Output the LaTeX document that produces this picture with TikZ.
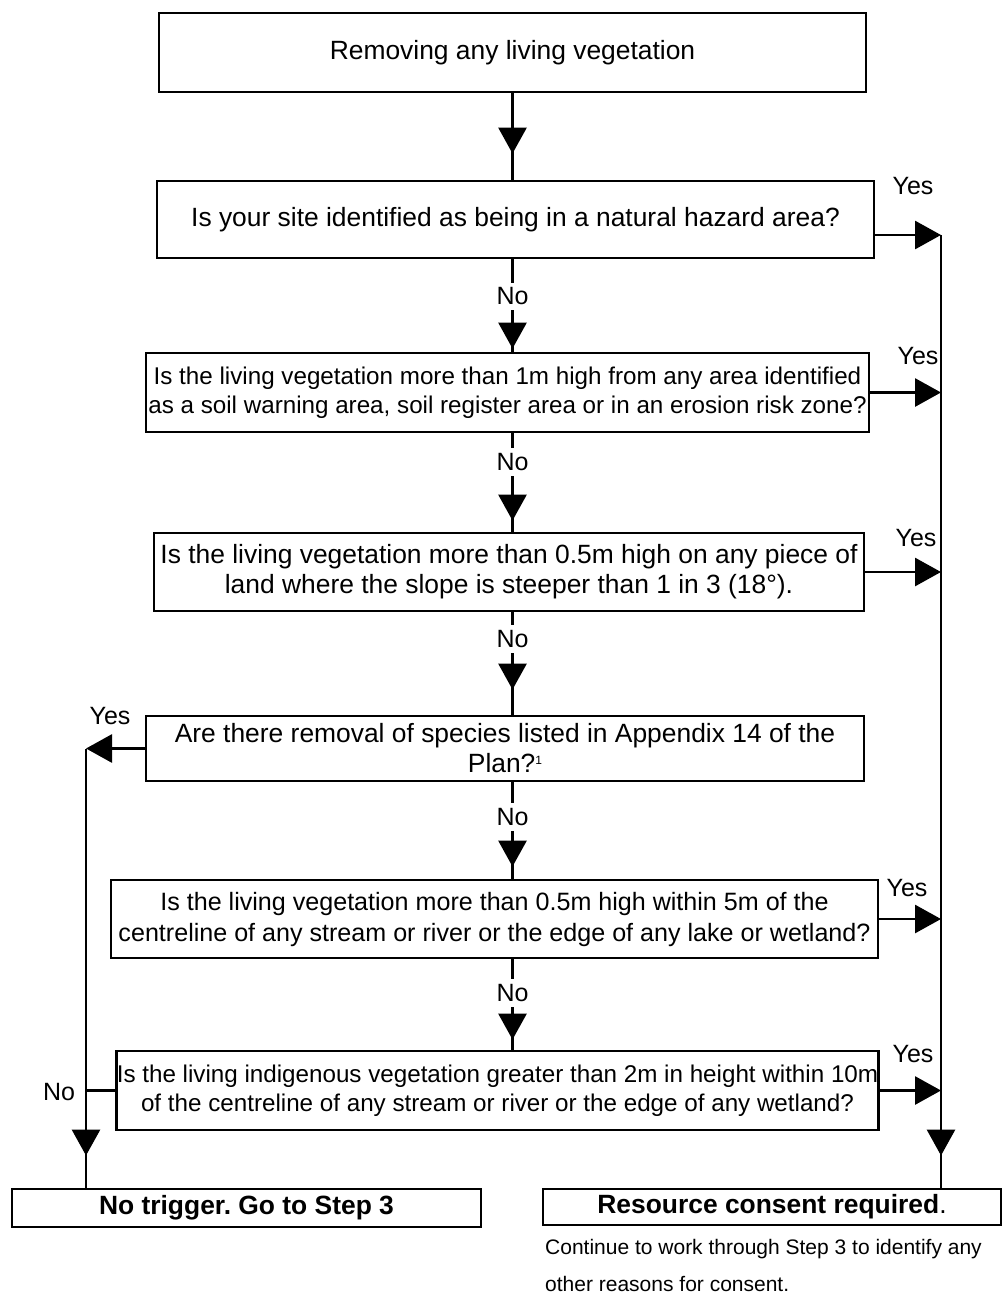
\documentclass[tikz,border=0pt]{standalone}
\usepackage{fontspec}
\setmainfont{Liberation Sans}
\usetikzlibrary{arrows.meta,positioning,decorations.markings}

\begin{document}
\begin{tikzpicture}[x=1pt,y=-1pt,
  qbox/.style={draw,line width=2.9pt,inner sep=0pt,align=center,font=\frenchspacing\fontsize{26.4}{30}\selectfont},
  endbox/.style={qbox,font=\frenchspacing\fontsize{26.4}{30}\selectfont\bfseries},
  flow/.style={line width=2.9pt},
  tipend/.style={-{Triangle[length=26pt,width=28pt]}},
  midtip/.style={postaction={decorate},decoration={markings,mark=at position #1 with {\arrow{Triangle[length=26pt,width=28pt]}}}},
  lbl/.style={font=\fontsize{25}{30}\selectfont,inner sep=1pt},
  nolbl/.style={lbl,fill=white,inner xsep=1pt,inner ysep=5pt}]
  \useasboundingbox (0,0) rectangle (1002,1296);
  % Question boxes
  \node[qbox,minimum width=707,minimum height=79] (B1) at (512.5,52.5) {Removing any living vegetation};
  \node[qbox,minimum width=717,minimum height=77] (B2) at (515.5,219.5) {Is your site identified as being in a natural hazard area?};
  \node[qbox,minimum width=723,minimum height=79,font=\fontsize{24.2}{29.5}\selectfont] (B3) at (507.5,392.5) {Is the living vegetation more than 1m high from any area identified\\as a soil warning area, soil register area or in an erosion risk zone?};
  \node[qbox,minimum width=710,minimum height=78] (B4) at (509,572) {Is the living vegetation more than 0.5m high on any piece of\\land where the slope is steeper than 1 in 3 (18°).};
  \node[qbox,minimum width=718,minimum height=65] (B5) at (505,748.5) {Are there removal of species listed in Appendix 14 of the\\Plan?\raisebox{8pt}{\fontsize{12}{12}\selectfont 1}};
  \node[qbox,minimum width=767,minimum height=78,font=\fontsize{25.1}{31}\selectfont] (B6) at (494.5,919) {Is the living vegetation more than 0.5m high within 5m of the\\centreline of any stream or river or the edge of any lake or wetland?};
  \node[qbox,minimum width=761,minimum height=79,font=\fontsize{24.2}{29}\selectfont] (B7) at (497.5,1090.5) {Is the living indigenous vegetation greater than 2m in height within 10m\\of the centreline of any stream or river or the edge of any wetland?};
  % Outcome boxes
  \node[endbox,minimum width=469,minimum height=38] (B8) at (246.5,1208) {No trigger. Go to Step 3};
  \node[endbox,minimum width=458,minimum height=36] (B9) at (772,1207) {Resource consent required\textmd{.}};
  \node[anchor=west,align=left,inner sep=0pt,font=\fontsize{21}{37}\selectfont] (note) at (545,1265) {Continue to work through Step 3 to identify any\\other reasons for consent.};
  % Rails
  \coordinate (rrail) at (941,235);
  \coordinate (lrail) at (86,748.5);
  % No path
  \draw[flow,midtip=-26pt] (B1.south) -- (B1.south |- B2.north);
  \draw[flow,midtip=-3pt] (B2.south -| B1.south) -- (B3.north -| B1.south) node[nolbl,pos=0.4] (no1) {No};
  \draw[flow,midtip=-11pt] (B3.south -| B1.south) -- (B4.north -| B1.south) node[nolbl,pos=0.29] (no2) {No};
  \draw[flow,midtip=-25pt] (B4.south -| B1.south) -- (B5.north -| B1.south) node[nolbl,pos=0.26] (no3) {No};
  \draw[flow,midtip=-12pt] (B5.south -| B1.south) -- (B6.north -| B1.south) node[nolbl,pos=0.36] (no4) {No};
  \draw[flow,midtip=-10pt] (B6.south -| B1.south) -- (B7.north -| B1.south) node[nolbl,pos=0.37] (no5) {No};
  % Yes arrows
  \draw[flow,tipend] ([yshift=-15.5pt]B2.east) -- (rrail);
  \foreach \b in {B3,B4,B6,B7}
    \draw[flow,tipend] (\b.east) -- (\b.east -| rrail);
  \draw[flow,midtip=-32pt] (rrail) -- (rrail |- B9.north);
  \draw[flow,tipend] (B5.west) -- (lrail);
  \draw[flow] (B7.west) -- (B7.west -| lrail);
  \draw[flow,midtip=-32pt] (lrail) -- (lrail |- B8.north);
  % Labels
  \foreach \x/\y/\n in {913/186/y1,918/356/y2,916/538/y3,907/888/y4,913/1054/y5,110/716/y6}
    \node[lbl] (\n) at (\x,\y) {Yes};
  \node[lbl] (no6) at (59,1092) {No};
\end{tikzpicture}
\end{document}
